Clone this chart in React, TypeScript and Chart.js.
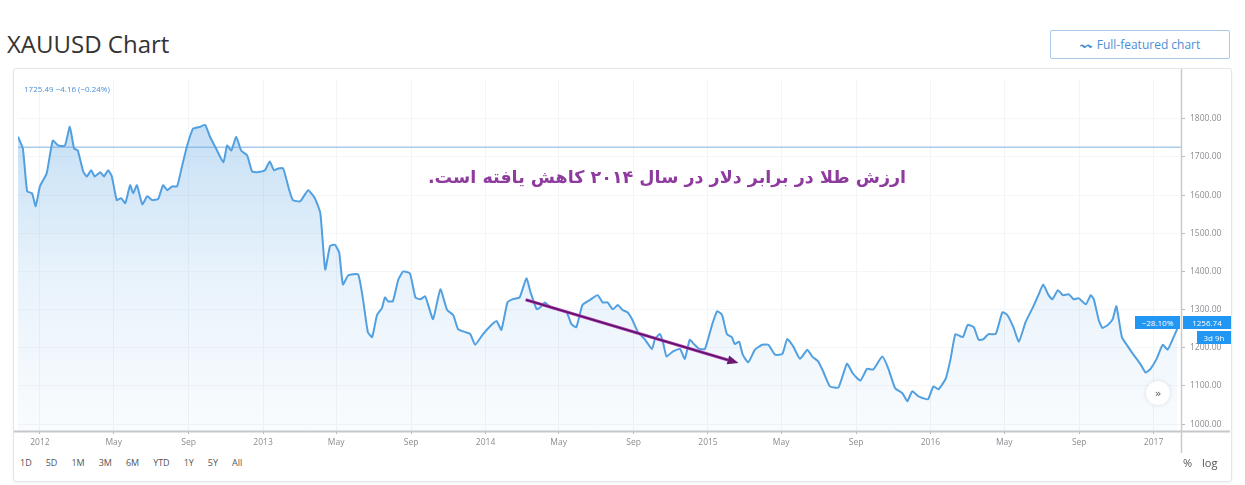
import React, { useEffect, useRef } from "react";
import { Chart, registerables } from "chart.js";
Chart.register(...registerables);

const dates = [
  "2011-11-26","2011-12-04","2011-12-11","2011-12-19","2011-12-25",
  "2012-01-01","2012-01-12","2012-01-22","2012-01-31","2012-02-11","2012-02-19","2012-02-26","2012-03-03","2012-03-12","2012-03-18","2012-03-25","2012-03-31","2012-04-09","2012-04-15","2012-04-22","2012-04-28","2012-05-06","2012-05-13","2012-05-20","2012-05-28","2012-06-02","2012-06-08","2012-06-17","2012-06-25","2012-07-03","2012-07-13","2012-07-21","2012-07-28","2012-08-05","2012-08-13","2012-08-21","2012-08-29","2012-09-08","2012-09-20","2012-09-28","2012-10-06","2012-10-16","2012-10-28","2012-11-03","2012-11-10","2012-11-18","2012-11-26","2012-12-06","2012-12-14","2012-12-22",
  "2013-01-04","2013-01-12","2013-01-19","2013-01-26","2013-02-03","2013-02-13","2013-02-19","2013-03-03","2013-03-16","2013-03-27","2013-04-05","2013-04-13","2013-04-21","2013-04-29","2013-05-06","2013-05-12","2013-05-21","2013-06-06","2013-06-14","2013-06-22","2013-06-29","2013-07-07","2013-07-15","2013-07-20","2013-07-25","2013-08-02","2013-08-11","2013-08-19","2013-08-30","2013-09-08","2013-09-16","2013-09-24","2013-09-29","2013-10-07","2013-10-19","2013-10-30","2013-11-09","2013-11-17","2013-11-29","2013-12-07","2013-12-15","2013-12-27",
  "2014-01-07","2014-01-19","2014-01-27","2014-02-06","2014-02-14","2014-02-26","2014-03-09","2014-03-16","2014-03-26","2014-04-01","2014-04-08","2014-04-19","2014-04-29","2014-05-14","2014-05-22","2014-05-30","2014-06-09","2014-06-21","2014-07-04","2014-07-12","2014-07-20","2014-07-29","2014-08-06","2014-08-14","2014-08-22","2014-08-30","2014-09-08","2014-09-19","2014-10-01","2014-10-06","2014-10-14","2014-10-19","2014-10-25","2014-11-04","2014-11-16","2014-11-24","2014-12-02","2014-12-10","2014-12-18","2014-12-27",
  "2015-01-08","2015-01-16","2015-01-24","2015-02-01","2015-02-09","2015-02-14","2015-02-21","2015-02-27","2015-03-08","2015-03-19","2015-03-31","2015-04-10","2015-04-21","2015-05-03","2015-05-11","2015-05-21","2015-06-01","2015-06-13","2015-06-21","2015-07-01","2015-07-09","2015-07-20","2015-08-03","2015-08-17","2015-08-27","2015-09-08","2015-09-19","2015-09-29","2015-10-14","2015-10-24","2015-11-04","2015-11-16","2015-11-24","2015-12-02","2015-12-12","2015-12-20","2015-12-28",
  "2016-01-06","2016-01-14","2016-01-26","2016-02-03","2016-02-11","2016-02-23","2016-03-02","2016-03-12","2016-03-20","2016-03-28","2016-04-05","2016-04-17","2016-04-28","2016-05-06","2016-05-16","2016-05-25","2016-06-05","2016-06-17","2016-06-26","2016-07-04","2016-07-12","2016-07-19","2016-07-28","2016-08-05","2016-08-15","2016-08-23","2016-08-31","2016-09-12","2016-09-20","2016-09-25","2016-10-03","2016-10-09","2016-10-18","2016-10-26","2016-11-01","2016-11-10","2016-11-20","2016-11-29","2016-12-11","2016-12-19","2016-12-27",
  "2017-01-06","2017-01-16","2017-01-24","2017-02-01","2017-02-09",
];

const prices = [
  1753,1722,1610,1605,1571,
  1623,1657,1743,1730,1730,1779,1722,1717,1662,1649,1665,1649,1660,1649,1665,1649,1587,1592,1579,1626,1605,1626,1576,1597,1587,1590,1626,1613,1623,1623,1675,1727,1774,1779,1784,1753,1722,1686,1730,1717,1753,1717,1704,1662,1660,
  1665,1688,1665,1670,1670,1613,1587,1584,1613,1592,1553,1405,1467,1470,1449,1366,1390,1392,1327,1241,1228,1286,1304,1332,1322,1322,1379,1400,1395,1332,1327,1335,1312,1275,1353,1299,1286,1249,1241,1236,1208,1234,
  1254,1270,1247,1319,1327,1332,1382,1345,1301,1306,1319,1305,1301,1293,1262,1254,1312,1325,1338,1319,1319,1301,1312,1299,1293,1273,1241,1223,1197,1223,1236,1216,1177,1190,1197,1171,1221,1208,1197,1197,
  1262,1296,1286,1236,1228,1210,1216,1182,1162,1195,1208,1208,1182,1184,1223,1203,1171,1195,1177,1164,1138,1099,1096,1158,1132,1114,1145,1143,1177,1145,1094,1081,1060,1086,1073,1068,1065,
  1099,1091,1119,1171,1236,1228,1260,1254,1221,1223,1236,1236,1293,1286,1254,1216,1267,1306,1338,1366,1340,1327,1351,1338,1340,1327,1330,1314,1338,1327,1273,1252,1260,1275,1309,1228,1203,1182,1156,1135,1145,
  1171,1208,1195,1221,1250,
];

const xRange = ["2011-11-26", "2017-02-15"];
const yRange = [982, 1904];
const yTicks = [1000, 1100, 1200, 1300, 1400, 1500, 1600, 1700, 1800];
const xTickDates = [
  "2012-01-01","2012-05-01","2012-09-01","2013-01-01","2013-05-01","2013-09-01",
  "2014-01-01","2014-05-01","2014-09-01","2015-01-01","2015-05-01","2015-09-01",
  "2016-01-01","2016-05-01","2016-09-01","2017-01-01",
];
const xTickLabels = ["2012","May","Sep","2013","May","Sep","2014","May","Sep","2015","May","Sep","2016","May","Sep","2017"];
const referencePrice = 1725.49;
const headerQuote = "1725.49 −4.16 (−0.24%)";
const lastPrice = "1256.74";
const changePct = "−28.10%";
const countdown = "3d 9h";
const arrowStart = { date: "2014-03-08", value: 1326 };
const arrowEnd = { date: "2015-02-20", value: 1160 };
const annotation = "ارزش طلا در برابر دلار در سال ۲۰۱۴ کاهش یافته است.";
const rangeButtons = ["1D", "5D", "1M", "3M", "6M", "YTD", "1Y", "5Y", "All"];

const t = (d: string) => Date.parse(d);

export default function App() {
  const ref = useRef<HTMLCanvasElement | null>(null);

  useEffect(() => {
    document.body.style.margin = "0";
    document.body.style.background = "#ffffff";
    const canvas = ref.current;
    if (!canvas) return;

    const overlay = {
      id: "overlay",
      beforeDatasetsDraw(chart: any) {
        const { ctx, chartArea, scales } = chart;
        const y = scales.y.getPixelForValue(referencePrice);
        ctx.save();
        ctx.strokeStyle = "#a9cbea";
        ctx.lineWidth = 1.5;
        ctx.beginPath();
        ctx.moveTo(chartArea.left, y);
        ctx.lineTo(chartArea.right, y);
        ctx.stroke();
        ctx.restore();
      },
      afterDraw(chart: any) {
        const { ctx, chartArea, scales, width, height } = chart;
        ctx.save();
        ctx.strokeStyle = "#c4c7cb";
        ctx.lineWidth = 2;
        ctx.beginPath();
        ctx.moveTo(0, chartArea.bottom + 0.5);
        ctx.lineTo(width - 6, chartArea.bottom + 0.5);
        ctx.stroke();
        ctx.lineWidth = 1.5;
        ctx.strokeStyle = "#c9cccf";
        ctx.beginPath();
        ctx.moveTo(chartArea.right + 0.5, 0);
        ctx.lineTo(chartArea.right + 0.5, height);
        ctx.stroke();
        const x1 = scales.x.getPixelForValue(t(arrowStart.date));
        const y1 = scales.y.getPixelForValue(arrowStart.value);
        const x2 = scales.x.getPixelForValue(t(arrowEnd.date));
        const y2 = scales.y.getPixelForValue(arrowEnd.value);
        const ang = Math.atan2(y2 - y1, x2 - x1);
        const hl = 11;
        const bx = x2 - hl * Math.cos(ang);
        const by = y2 - hl * Math.sin(ang);
        ctx.strokeStyle = "#b23bb8";
        ctx.lineWidth = 3.2;
        ctx.beginPath();
        ctx.moveTo(x1, y1);
        ctx.lineTo(bx, by);
        ctx.stroke();
        ctx.strokeStyle = "#5a1560";
        ctx.lineWidth = 1.6;
        ctx.beginPath();
        ctx.moveTo(x1, y1);
        ctx.lineTo(bx, by);
        ctx.stroke();
        ctx.fillStyle = "#6a1a70";
        ctx.beginPath();
        ctx.moveTo(x2, y2);
        ctx.lineTo(bx + 4.5 * Math.sin(ang), by - 4.5 * Math.cos(ang));
        ctx.lineTo(bx - 4.5 * Math.sin(ang), by + 4.5 * Math.cos(ang));
        ctx.closePath();
        ctx.fill();
        ctx.restore();
      },
    };

    const chart = new Chart(canvas, {
      type: "line",
      data: {
        datasets: [
          {
            data: dates.map((d, i) => ({ x: t(d), y: prices[i] })),
            borderColor: "#52a0e0",
            borderWidth: 2,
            pointRadius: 0,
            tension: 0.15,
            fill: "start",
            backgroundColor: (c: any) => {
              const area = c.chart.chartArea;
              if (!area) return "rgba(77,157,224,0.2)";
              const g = c.chart.ctx.createLinearGradient(0, area.top, 0, area.bottom);
              g.addColorStop(0, "rgba(77,157,224,0.38)");
              g.addColorStop(0.55, "rgba(77,157,224,0.13)");
              g.addColorStop(1, "rgba(77,157,224,0.03)");
              return g;
            },
          },
        ],
      },
      options: {
        animation: false,
        responsive: false,
        events: [],
        layout: { padding: { left: 4, top: 7, right: 0, bottom: 0 } },
        plugins: { legend: { display: false }, tooltip: { enabled: false } },
        scales: {
          x: {
            type: "linear",
            min: t(xRange[0]),
            max: t(xRange[1]),
            afterBuildTicks: (s: any) => {
              s.ticks = xTickDates.map((d) => ({ value: t(d) }));
            },
            afterFit: (s: any) => {
              s.height = 22;
            },
            border: { display: false },
            grid: { color: "#f2f4f7", tickColor: "#b5b8bc", tickLength: 3, lineWidth: 1 },
            ticks: {
              autoSkip: false,
              maxRotation: 0,
              padding: 3,
              color: "#8a8d91",
              font: { family: "Open Sans", size: 8.5 },
              callback: (v: any) => {
                const i = xTickDates.findIndex((d) => t(d) === v);
                return i >= 0 ? xTickLabels[i] : "";
              },
            },
          },
          y: {
            position: "right",
            min: yRange[0],
            max: yRange[1],
            afterBuildTicks: (s: any) => {
              s.ticks = yTicks.map((v) => ({ value: v }));
            },
            afterFit: (s: any) => {
              s.width = 55;
            },
            border: { display: false },
            grid: { color: "#f5f6f8", tickColor: "#b5b8bc", tickLength: 4 },
            ticks: {
              padding: 5,
              color: "#8a8d91",
              font: { family: "Open Sans", size: 8.5 },
              callback: (v: any) => Number(v).toFixed(2),
            },
          },
        },
      },
      plugins: [overlay],
    } as any);
    return () => chart.destroy();
  }, []);

  const blueBox: React.CSSProperties = {
    position: "absolute",
    background: "#2196f3",
    color: "#fff",
    fontFamily: "Open Sans",
    fontSize: 8,
    lineHeight: "13px",
    height: 13,
    textAlign: "center",
  };

  return (
    <div style={{ position: "relative", width: 1245, height: 485, background: "#fff", overflow: "hidden" }}>
      <div style={{ position: "absolute", left: 7, top: 27, fontFamily: "Open Sans", fontSize: 24, color: "#333" }}>
        XAUUSD Chart
      </div>
      <div
        style={{
          position: "absolute", left: 1050, top: 30, width: 180, height: 29, border: "1px solid #a9c9e6",
          borderRadius: 2, boxSizing: "border-box", color: "#4a8fd4", fontFamily: "Open Sans", fontSize: 12,
          display: "flex", alignItems: "center", justifyContent: "center", gap: 5,
        }}
      >
        <span style={{ fontSize: 12 }}>〰</span>
        <span>Full-featured chart</span>
      </div>
      <div
        style={{
          position: "absolute", left: 13, top: 68, width: 1219, height: 414, border: "1px solid #e3e6ea",
          borderRadius: 3, boxSizing: "border-box", boxShadow: "0 1px 3px rgba(0,0,0,0.06)",
        }}
      />
      <canvas ref={ref} width={1222} height={384} style={{ position: "absolute", left: 14, top: 69, width: 1222, height: 384 }} />
      <div style={{ position: "absolute", left: 24, top: 83, fontFamily: "Open Sans", fontSize: 8, color: "#4a8fd4" }}>
        {headerQuote}
      </div>
      <div
        dir="rtl"
        style={{
          position: "absolute", left: 420, top: 167, width: 494, textAlign: "center",
          fontFamily: "DejaVu Sans", fontWeight: "bold", fontSize: 17.5, color: "#8e3a9e", whiteSpace: "nowrap",
        }}
      >
        {annotation}
      </div>
      <div style={{ ...blueBox, left: 1135, top: 316, width: 45 }}>{changePct}</div>
      <div style={{ ...blueBox, left: 1183, top: 316, width: 48 }}>{lastPrice}</div>
      <div style={{ ...blueBox, left: 1197, top: 331, width: 34 }}>{countdown}</div>
      <div
        style={{
          position: "absolute", left: 1146, top: 381, width: 24, height: 24, borderRadius: 12, background: "#fff",
          boxShadow: "0 0 4px rgba(0,0,0,0.12)", fontFamily: "DejaVu Sans", fontSize: 11, color: "#555",
          display: "flex", alignItems: "center", justifyContent: "center",
        }}
      >
        »
      </div>
      <div style={{ position: "absolute", left: 20, top: 456, display: "flex", gap: 14, fontFamily: "Open Sans", fontSize: 9, color: "#555" }}>
        {rangeButtons.map((b) => (
          <span key={b}>{b}</span>
        ))}
      </div>
      <div style={{ position: "absolute", left: 1183, top: 455, fontFamily: "Open Sans", fontSize: 11, color: "#555", display: "flex", gap: 10 }}>
        <span>%</span>
        <span>log</span>
      </div>
    </div>
  );
}
